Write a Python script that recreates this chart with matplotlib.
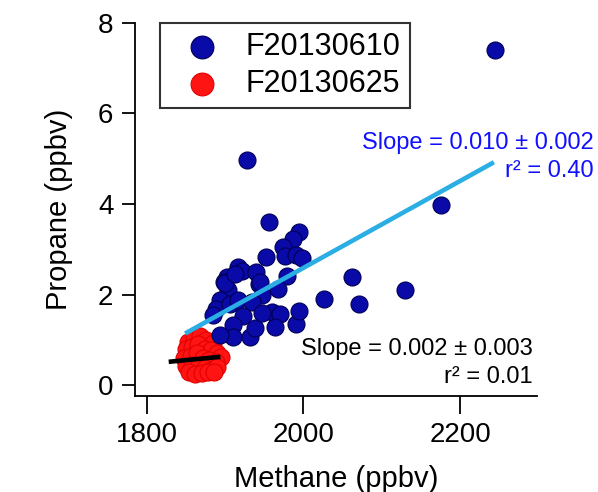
import matplotlib
matplotlib.use("Agg")
import matplotlib.pyplot as plt
import numpy as np

plt.rcParams['font.family'] = ['Liberation Sans', 'DejaVu Sans']

# ---------------- data ----------------
blue_x = [2244, 1928, 2175, 1956, 1994, 1987, 1974, 1976, 1991, 1998, 1952, 1916,
          1922, 1903, 1899, 1940, 1943, 1947, 1979, 1967, 1904, 1894, 1889, 1906,
          1917, 1934, 1923, 1910, 1910, 1894, 1932, 1938, 1960, 1970, 1964, 1991,
          1994, 2026, 2062, 2071, 2130, 1947, 1900, 1945, 1884, 1912]
blue_y = [7.40, 4.98, 3.98, 3.59, 3.39, 3.22, 3.05, 2.85, 2.87, 2.81, 2.83, 2.60,
          2.52, 2.39, 2.28, 2.50, 2.24, 1.99, 2.41, 2.13, 2.10, 1.88, 1.69, 1.80,
          1.88, 1.84, 1.52, 1.32, 1.07, 1.10, 1.07, 1.25, 1.62, 1.58, 1.29, 1.36,
          1.64, 1.90, 2.38, 1.78, 2.11, 1.59, 2.25, 2.27, 1.55, 2.45]

red_x = [1852, 1860, 1868, 1876, 1884, 1850, 1858, 1866, 1874, 1882, 1890, 1895,
         1848, 1856, 1864, 1872, 1880, 1888, 1850, 1858, 1866, 1874, 1882, 1890,
         1854, 1862, 1870, 1878, 1886]
red_y = [0.95, 1.05, 1.08, 1.00, 0.92, 0.80, 0.85, 0.90, 0.80, 0.78, 0.72, 0.62,
         0.60, 0.65, 0.70, 0.60, 0.55, 0.50, 0.42, 0.45, 0.40, 0.38, 0.33, 0.40,
         0.28, 0.25, 0.27, 0.30, 0.28]

# fit lines (endpoints)
blue_fit_x = [1849, 2243]
blue_fit_y = [1.14, 4.92]
red_fit_x = [1828, 1894]
red_fit_y = [0.515, 0.625]

series_labels = ['F20130610', 'F20130625']
blue_text = ['Slope = 0.010 ± 0.002', 'r² = 0.40']
red_text = ['Slope = 0.002 ± 0.003', 'r² = 0.01']

xticks = [1800, 2000, 2200]
yticks = [0, 2, 4, 6, 8]

# ---------------- figure ----------------
W, H = 598, 492
fig = plt.figure(figsize=(W / 100, H / 100), dpi=100)
ax = fig.add_axes([135 / W, 1 - 396 / H, (537 - 135) / W, (396 - 22.7) / H])

ax.scatter(blue_x, blue_y, s=150, c='#0a0aa8', edgecolors='#000055',
           linewidths=0.8, zorder=3, label=series_labels[0])
ax.scatter(red_x, red_y, s=150, c='#ff1414', edgecolors='#e00000',
           linewidths=0.8, zorder=2, label=series_labels[1])

ax.plot(blue_fit_x, blue_fit_y, color='#2aaee4', lw=3.3, zorder=4,
        solid_capstyle='butt')
ax.plot(red_fit_x, red_fit_y, color='black', lw=3.3, zorder=4,
        solid_capstyle='butt')

ax.text(2370, 5.21, blue_text[0], color='#1010ff', fontsize=17, ha='right',
        va='baseline', clip_on=False)
ax.text(2370, 4.59, blue_text[1], color='#1010ff', fontsize=17, ha='right',
        va='baseline', clip_on=False)
ax.text(2293, 0.66, red_text[0], color='black', fontsize=17, ha='right',
        va='baseline')
ax.text(2293, 0.04, red_text[1], color='black', fontsize=17, ha='right',
        va='baseline')

ax.set_xlim(1785, 2298)
ax.set_ylim(-0.24, 8.0)
ax.set_xticks(xticks)
ax.set_yticks(yticks)
for s in ['top', 'right']:
    ax.spines[s].set_visible(False)
for s in ['left', 'bottom']:
    ax.spines[s].set_linewidth(1.3)
ax.tick_params(direction='out', width=1.3, labelsize=20)
ax.tick_params(axis='x', length=13, pad=6)
ax.tick_params(axis='y', length=9.5, pad=6)

ax.set_xlabel('Methane (ppbv)', fontsize=21, labelpad=12)
ax.set_ylabel('Propane (ppbv)', fontsize=21, labelpad=18)

leg = ax.legend(loc='upper left', bbox_to_anchor=(160 / W, 1 - 23 / H),
                bbox_transform=fig.transFigure, borderaxespad=0, fontsize=22,
                frameon=True, fancybox=False, edgecolor='black',
                handletextpad=0.35, borderpad=0.3, labelspacing=0.22,
                handlelength=2.15, scatterpoints=1)
leg.get_frame().set_linewidth(1.5)
for h in leg.legend_handles:
    h.set_sizes([270])

fig.savefig('out.png', dpi=100)
